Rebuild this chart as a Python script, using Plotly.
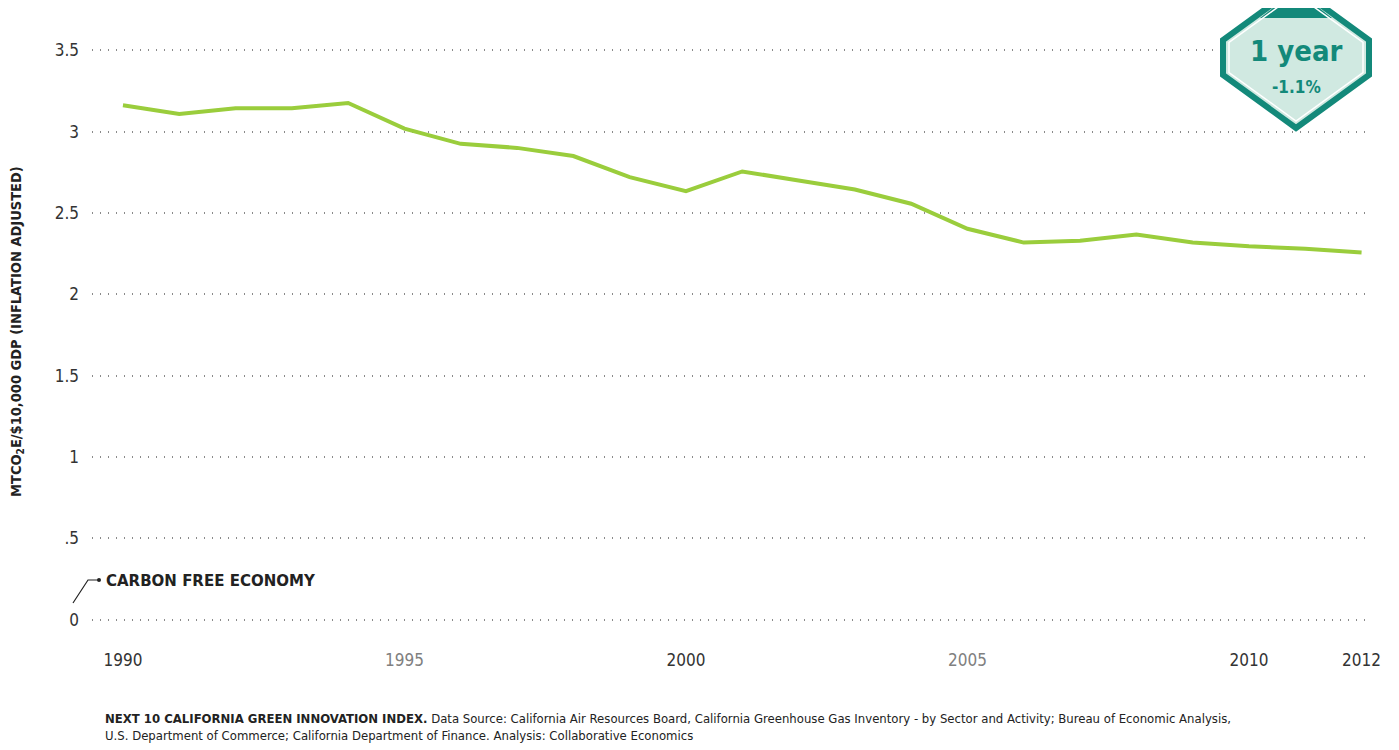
import plotly.graph_objects as go

years = list(range(1990, 2013))
intensity = [3.162, 3.108, 3.143, 3.143, 3.176, 3.018, 2.925, 2.900, 2.850, 2.720,
             2.634, 2.755, 2.700, 2.644, 2.557, 2.403, 2.318, 2.329, 2.367, 2.318,
             2.295, 2.280, 2.257]

y_tickvals = [0, 0.5, 1, 1.5, 2, 2.5, 3, 3.5]
y_ticktext = ["0", ".5", "1", "1.5", "2", "2.5", "3", "3.5"]
x_tickvals = [1990, 1995, 2000, 2005, 2010, 2012]
x_tickcolors = ["#333333", "#808080", "#333333", "#808080", "#333333", "#333333"]

badge_title = "1 year"
badge_change = "-1.1%"

FONT = "Liberation Sans Narrow, DejaVu Sans Condensed, Roboto, sans-serif"
TEAL = "#13897a"
LIGHT = "#d0e9e1"
GREEN = "#9acd3c"

# the page body has an 8px margin: work in page pixels, convert to figure pixels
OFF = 8
PAGE_W, PAGE_H = 1399, 750
W, H = PAGE_W - OFF, PAGE_H - OFF
PLOT_L, PLOT_R, PLOT_T, PLOT_B = 92, 1370, 34, 636   # page pixels
ML = PLOT_L - OFF
MR = PAGE_W - PLOT_R
MT = PLOT_T - OFF
MB = PAGE_H - PLOT_B
pw = PLOT_R - PLOT_L
ph = PLOT_B - PLOT_T


def px(x):
    return (x - PLOT_L) / pw


def py(y):
    return (PLOT_B - y) / ph


def path(points):
    return "M " + " L ".join(f"{px(a):.5f},{py(b):.5f}" for a, b in points) + " Z"


fig = go.Figure()
fig.add_trace(go.Scatter(x=years, y=intensity, mode="lines",
                         line=dict(color=GREEN, width=4), hoverinfo="skip",
                         showlegend=False))

ticktext_x = [f'<span style="color:{c}">{v}</span>' for v, c in zip(x_tickvals, x_tickcolors)]

fig.update_layout(
    width=W, height=H,
    margin=dict(l=ML, r=MR, t=MT, b=MB, autoexpand=False),
    paper_bgcolor="white", plot_bgcolor="white",
    font=dict(family=FONT, color="#333333"),
    xaxis=dict(range=[1989.45, 2012.15], tickvals=x_tickvals, ticktext=ticktext_x,
               showgrid=False, zeroline=False, showline=False, ticks="",
               automargin=False,
               tickfont=dict(size=17, family="DejaVu Sans Condensed, Roboto"),
               ticklabelstandoff=12),
    yaxis=dict(range=[-0.1, 3.6], tickvals=y_tickvals, ticktext=y_ticktext,
               showgrid=True, gridcolor="#8a8a8a", gridwidth=1.6, griddash="1px,7px",
               zeroline=False, showline=False, ticks="",
               automargin=False,
               tickfont=dict(size=17, family="DejaVu Sans Condensed, Roboto"),
               ticklabelstandoff=12),
)

# y axis title (as rotated annotation for exact placement)
fig.add_annotation(xref="paper", yref="paper", x=px(17), y=py(332),
                   xanchor="center", yanchor="middle", textangle=-90, showarrow=False,
                   text="<b>MTCO<sub>2</sub>E/$10,000 GDP (INFLATION ADJUSTED)</b>",
                   font=dict(size=14.5, family="DejaVu Sans Condensed, Roboto", color="#222"))

# connector for "CARBON FREE ECONOMY"
fig.add_shape(type="path", xref="paper", yref="paper",
              path="M {:.5f},{:.5f} L {:.5f},{:.5f} L {:.5f},{:.5f}".format(
                  px(73), py(603), px(88), py(580), px(99), py(580)),
              line=dict(color="#222", width=1.2))
fig.add_shape(type="circle", xref="paper", yref="paper",
              x0=px(97), x1=px(101), y0=py(582), y1=py(578),
              fillcolor="#222", line=dict(width=0))
fig.add_annotation(xref="paper", yref="paper", x=px(104), y=py(581),
                   xanchor="left", yanchor="middle", showarrow=False,
                   text="<b>CARBON FREE ECONOMY</b>",
                   font=dict(size=15, family="DejaVu Sans, Roboto", color="#222"))

# badge
cx = 1296
outer = [(cx, -13), (1369, 40), (1369, 75), (cx, 128), (1223, 75), (1223, 40)]
inner = [(cx, -6), (1363, 42.5), (1363, 72.5), (cx, 121), (1229, 72.5), (1229, 42.5)]
fig.add_shape(type="path", xref="paper", yref="paper", path=path(outer),
              fillcolor=LIGHT, line=dict(color=TEAL, width=6), layer="above")
fig.add_shape(type="path", xref="paper", yref="paper",
              path=path([(cx, -10), (1260, 18), (1332, 18)]),
              fillcolor=TEAL, line=dict(width=0), layer="above")
fig.add_shape(type="path", xref="paper", yref="paper", path=path(inner),
              line=dict(color="white", width=1.5), layer="above")
fig.add_annotation(xref="paper", yref="paper", x=px(cx), y=py(51),
                   xanchor="center", yanchor="middle",
                   showarrow=False, text=f"<b>{badge_title}</b>",
                   font=dict(size=29, family="DejaVu Sans Condensed, Roboto", color=TEAL))
fig.add_annotation(xref="paper", yref="paper", x=px(cx), y=py(87),
                   xanchor="center", yanchor="middle",
                   showarrow=False, text=f"<b>{badge_change}</b>",
                   font=dict(size=17, family="DejaVu Sans Condensed, Roboto", color=TEAL))

# footer
footer = ("<b>NEXT 10 CALIFORNIA GREEN INNOVATION INDEX.</b> Data Source: California Air Resources Board, "
          "California Greenhouse Gas Inventory - by Sector and Activity; Bureau of Economic Analysis,<br>"
          "U.S. Department of Commerce; California Department of Finance. Analysis: Collaborative Economics")
fig.add_annotation(xref="paper", yref="paper", x=px(103), y=py(709),
                   xanchor="left", yanchor="top", align="left", showarrow=False,
                   text=footer,
                   font=dict(size=13, family=FONT, color="#222"))

fig.write_html("out.html")
